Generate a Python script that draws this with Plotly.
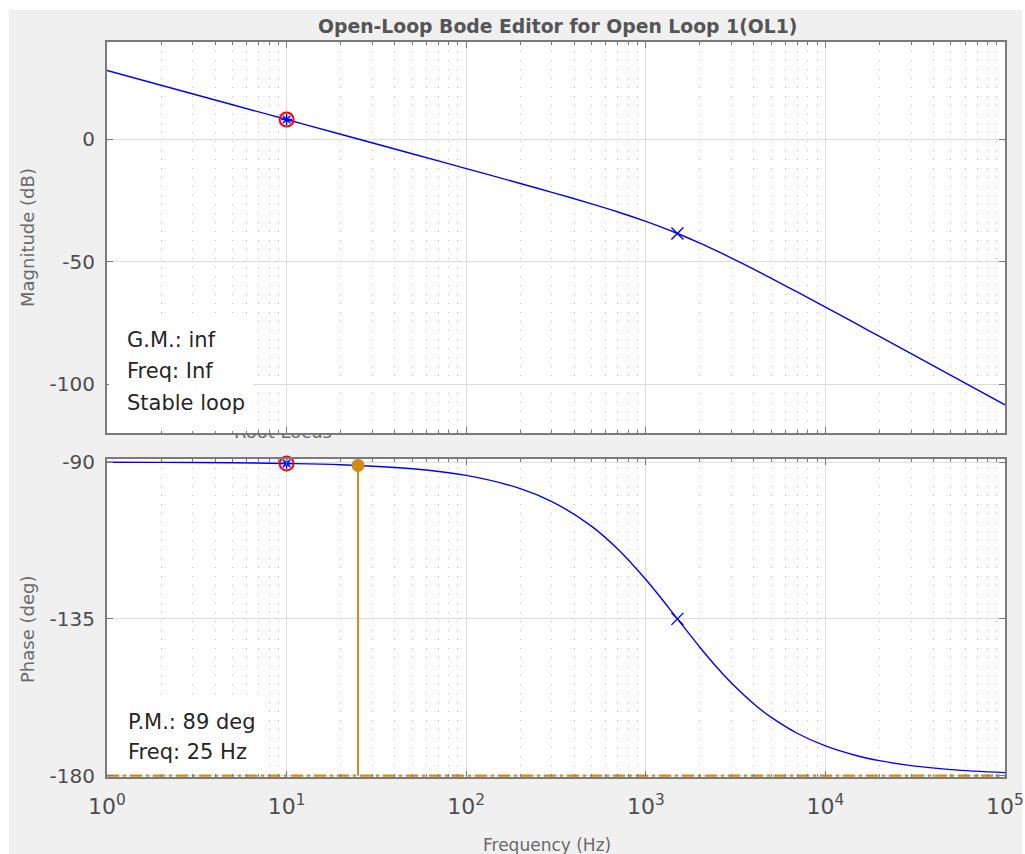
import plotly.graph_objects as go

# ---------------- data ----------------
freq_hz = [1, 2, 5, 10, 20, 50, 100, 200, 300, 500, 700, 1000, 1200, 1500,
           2000, 2500, 3000, 4000, 5000, 7000, 10000, 15000, 20000, 30000,
           50000, 100000]
mag_db = [27.96, 21.94, 13.98, 7.96, 1.94, -6.03, -12.06, -18.14, -21.75,
          -26.48, -29.80, -33.64, -35.77, -38.57, -42.50, -45.77, -48.57,
          -53.17, -56.85, -62.52, -68.62, -75.60, -80.58, -87.61, -96.48,
          -108.52]
phase_deg = [-90.04, -90.08, -90.19, -90.38, -90.76, -91.91, -93.81, -97.59,
             -101.31, -108.43, -115.02, -123.69, -128.66, -135.00, -143.13,
             -149.04, -153.43, -159.44, -163.30, -167.91, -171.47, -174.29,
             -175.71, -177.14, -178.28, -179.14]

comp_freq = [10]
comp_mag = [7.96]
comp_phase = [-90.38]

pole_freq = [1500]
pole_mag = [-38.57]
pole_phase = [-135.0]

pm_freq = [25]
pm_phase = [-90.95]
pm_base = [-180]

gm_lines = ["G.M.: inf", "Freq: Inf", "Stable loop"]
pm_lines = ["P.M.: 89 deg", "Freq: 25 Hz"]

mag_ticks = [-100, -50, 0]
mag_ticktext = ["-100", "-50", "0"]
phase_ticks = [-180, -135, -90]
phase_ticktext = ["-180", "-135", "-90"]
freq_ticks = [1, 10, 100, 1000, 10000, 100000]
freq_ticktext = ["10<sup>0</sup>", "10<sup>1</sup>", "10<sup>2</sup>",
                 "10<sup>3</sup>", "10<sup>4</sup>", "10<sup>5</sup>"]
minor_freq = [m * 10 ** k for k in range(5) for m in range(2, 10)]

# ---------------- styling ----------------
BLUE = "#0000FF"
RED = "#FF0000"
ORANGE = "#D18A12"
FRAME = "#7A7A7A"
GRID = "#DCDCDC"
MINOR_GRID = "#BEBEBE"
TICKFONT = "#4D4D4D"
FONT = "DejaVu Sans"

W, H = 1025, 854
L, R, T, B = 107, 1005, 42, 777
TOP_BOTTOM = 433
BOT_TOP = 459
PW = R - L
PH = B - T
top_dom = [(B - TOP_BOTTOM) / PH, 1.0]
bot_dom = [0.0, (B - BOT_TOP) / PH]


def px(xp):
    return (xp - L) / PW


def py(yp):
    return (B - yp) / PH


fig = go.Figure()

# magnitude
fig.add_trace(go.Scatter(x=freq_hz, y=mag_db, mode="lines",
                         line=dict(color=BLUE, width=1.4, shape="spline"),
                         xaxis="x", yaxis="y", hoverinfo="skip"))
fig.add_trace(go.Scatter(x=comp_freq, y=comp_mag, mode="markers",
                         marker=dict(symbol="circle-open", size=14, color=RED,
                                     line=dict(width=2, color=RED)),
                         xaxis="x", yaxis="y", cliponaxis=False))
fig.add_trace(go.Scatter(x=comp_freq, y=comp_mag, mode="markers",
                         marker=dict(symbol="asterisk-open", size=9, color=BLUE,
                                     line=dict(width=1.5, color=BLUE)),
                         xaxis="x", yaxis="y", cliponaxis=False))
fig.add_trace(go.Scatter(x=pole_freq, y=pole_mag, mode="markers",
                         marker=dict(symbol="x-thin-open", size=12, color=BLUE,
                                     line=dict(width=1.4, color=BLUE)),
                         xaxis="x", yaxis="y", cliponaxis=False))

# phase
fig.add_trace(go.Scatter(x=[freq_ticks[0], freq_ticks[-1]], y=pm_base * 2,
                         mode="lines",
                         line=dict(color=ORANGE, width=2.2, dash="12px,4px,3px,4px"),
                         xaxis="x2", yaxis="y2", cliponaxis=False))
fig.add_trace(go.Scatter(x=freq_hz, y=phase_deg, mode="lines",
                         line=dict(color=BLUE, width=1.4, shape="spline"),
                         xaxis="x2", yaxis="y2", hoverinfo="skip"))
fig.add_trace(go.Scatter(x=pm_freq * 2, y=pm_base + pm_phase, mode="lines",
                         line=dict(color=ORANGE, width=2),
                         xaxis="x2", yaxis="y2", cliponaxis=False))
fig.add_trace(go.Scatter(x=pm_freq, y=pm_phase, mode="markers",
                         marker=dict(symbol="circle", size=13, color=ORANGE),
                         xaxis="x2", yaxis="y2", cliponaxis=False))
fig.add_trace(go.Scatter(x=comp_freq, y=comp_phase, mode="markers",
                         marker=dict(symbol="circle-open", size=14, color=RED,
                                     line=dict(width=2, color=RED)),
                         xaxis="x2", yaxis="y2", cliponaxis=False))
fig.add_trace(go.Scatter(x=comp_freq, y=comp_phase, mode="markers",
                         marker=dict(symbol="asterisk-open", size=9, color=BLUE,
                                     line=dict(width=1.5, color=BLUE)),
                         xaxis="x2", yaxis="y2", cliponaxis=False))
fig.add_trace(go.Scatter(x=pole_freq, y=pole_phase, mode="markers",
                         marker=dict(symbol="x-thin-open", size=12, color=BLUE,
                                     line=dict(width=1.4, color=BLUE)),
                         xaxis="x2", yaxis="y2", cliponaxis=False))

# partially hidden label in the gap between the panels (clipped to the gap)
fig.add_trace(go.Scatter(x=[px(283)], y=[1.0], mode="text",
                         text=["Root Locus"],
                         textfont=dict(family=FONT, size=18, color="#6E6E6E"),
                         xaxis="x3", yaxis="y3", cliponaxis=True,
                         hoverinfo="skip"))

xcommon = dict(type="log", range=[0, 5], tickmode="array", tickvals=freq_ticks,
               showgrid=True, gridcolor=GRID, gridwidth=1,
               ticks="inside", ticklen=6, tickwidth=1, tickcolor=FRAME,
               showline=True, linecolor=FRAME, linewidth=2, mirror="allticks",
               zeroline=False, fixedrange=True,
               minor=dict(tickmode="array", tickvals=minor_freq, ticks="inside",
                          ticklen=3, tickwidth=1, tickcolor=FRAME,
                          showgrid=True, gridcolor=MINOR_GRID, gridwidth=1,
                          griddash="1px,8px"))
ycommon = dict(tickmode="array", showgrid=True, gridcolor=GRID, gridwidth=1,
               ticks="inside", ticklen=6, tickwidth=1, tickcolor=FRAME,
               showline=True, linecolor=FRAME, linewidth=2, mirror="allticks",
               zeroline=False, fixedrange=True,
               tickfont=dict(family=FONT, size=20, color=TICKFONT),
               ticklabelstandoff=6)

fig.update_layout(
    width=W, height=H,
    margin=dict(l=L, r=W - R, t=T, b=H - B, pad=0, autoexpand=False),
    paper_bgcolor="white", plot_bgcolor="#F0F0F0",
    showlegend=False,
    xaxis=dict(xcommon, domain=[0, 1], anchor="y", showticklabels=False),
    yaxis=dict(ycommon, domain=top_dom, anchor="x", range=[-120, 39.6],
               tickvals=mag_ticks, ticktext=mag_ticktext),
    xaxis2=dict(xcommon, domain=[0, 1], anchor="y2", ticktext=freq_ticktext,
                tickfont=dict(family=FONT, size=22, color=TICKFONT),
                ticklabelstandoff=9),
    yaxis2=dict(ycommon, domain=bot_dom, anchor="x2", range=[-180.4, -89.1],
                tickvals=phase_ticks, ticktext=phase_ticktext),
    xaxis3=dict(domain=[0, 1], anchor="y3", range=[0, 1], visible=False,
                fixedrange=True),
    yaxis3=dict(domain=[bot_dom[1], top_dom[0]], anchor="x3", range=[0, 1],
                visible=False, fixedrange=True),
)

shapes = [
    # grey figure background with thin white border
    dict(type="rect", xref="paper", yref="paper", layer="below",
         x0=px(9), x1=px(1022), y0=py(870), y1=py(10),
         fillcolor="#F0F0F0", line=dict(width=0)),
    # white axes backgrounds
    dict(type="rect", xref="paper", yref="paper", layer="below",
         x0=0, x1=1, y0=top_dom[0], y1=top_dom[1],
         fillcolor="white", line=dict(width=0)),
    dict(type="rect", xref="paper", yref="paper", layer="below",
         x0=0, x1=1, y0=bot_dom[0], y1=bot_dom[1],
         fillcolor="white", line=dict(width=0)),
]
fig.update_layout(shapes=shapes)

ann = []
# white boxes behind the margin texts
for (bx0, by0, bx1, by1) in [(109, 320, 253, 431), (109, 695, 262, 772)]:
    ann.append(dict(text=" ", xref="paper", yref="paper",
                    x=px(bx0), y=py(by0), xanchor="left", yanchor="top",
                    width=bx1 - bx0, height=by1 - by0, bgcolor="white",
                    borderpad=0, borderwidth=0, showarrow=False))
gm_y = [340, 371, 403]
for txt, yp in zip(gm_lines, gm_y):
    ann.append(dict(text=txt, xref="paper", yref="paper",
                    x=px(125), y=py(yp),
                    xanchor="left", yanchor="middle", showarrow=False,
                    font=dict(family=FONT, size=21, color="#262626")))
pm_y = [722, 752]
for txt, yp in zip(pm_lines, pm_y):
    ann.append(dict(text=txt, xref="paper", yref="paper",
                    x=px(126), y=py(yp),
                    xanchor="left", yanchor="middle", showarrow=False,
                    font=dict(family=FONT, size=21, color="#262626")))
# title
ann.append(dict(text="<b>Open-Loop Bode Editor for Open Loop 1(OL1)</b>",
                xref="paper", yref="paper", x=px(557), y=py(26),
                xanchor="center", yanchor="middle", showarrow=False,
                font=dict(family=FONT, size=18.8, color="#555555")))
# axis titles
ann.append(dict(text="Magnitude (dB)", xref="paper", yref="paper",
                x=px(27), y=py(238), textangle=-90,
                xanchor="center", yanchor="middle", showarrow=False,
                font=dict(family=FONT, size=18, color="#6A6A6A")))
ann.append(dict(text="Phase (deg)", xref="paper", yref="paper",
                x=px(27), y=py(630), textangle=-90,
                xanchor="center", yanchor="middle", showarrow=False,
                font=dict(family=FONT, size=18, color="#6A6A6A")))
ann.append(dict(text="Frequency (Hz)", xref="paper", yref="paper",
                x=px(547), y=py(845),
                xanchor="center", yanchor="middle", showarrow=False,
                font=dict(family=FONT, size=17, color="#6A6A6A")))
fig.update_layout(annotations=ann)

fig.write_html("out.html")
